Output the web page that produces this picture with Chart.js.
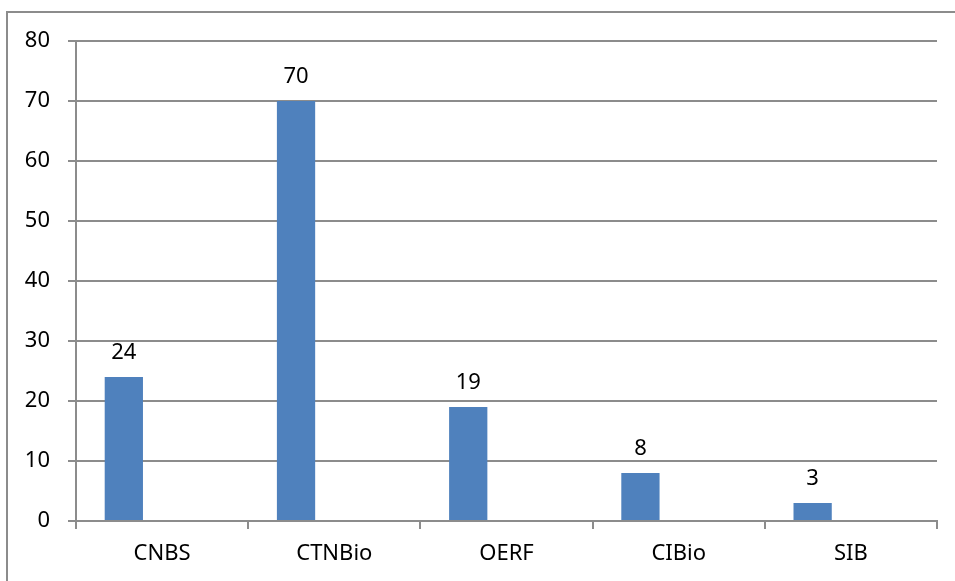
<!DOCTYPE html>
<html>
<head>
<meta charset="utf-8">
<script src="https://cdn.jsdelivr.net/npm/chart.js@4/dist/chart.umd.min.js"></script>
<style>
  html, body { margin: 0; padding: 0; background: #fff; }
  #wrap { width: 955px; height: 581px; position: relative; }
</style>
</head>
<body>
<div id="wrap"><canvas id="c" width="955" height="581"></canvas></div>
<script>
const categories = ["CNBS", "CTNBio", "OERF", "CIBio", "SIB"];
const values = [24, 70, 19, 8, 3];
const emptySeriesA = [null, null, null, null, null];
const emptySeriesB = [null, null, null, null, null];
const yTicks = { min: 0, max: 80, step: 10 };

const FONT = "'Noto Sans', 'Open Sans', sans-serif";
const GRID = "#8c8c8c";

const frame = {
  id: 'frame',
  beforeDraw(chart) {
    const ctx = chart.ctx;
    ctx.save();
    ctx.strokeStyle = GRID;
    ctx.lineWidth = 2;
    ctx.beginPath();
    ctx.moveTo(7, 600);
    ctx.lineTo(7, 12);
    ctx.lineTo(970, 12);
    ctx.stroke();
    ctx.restore();
  }
};

const dataLabels = {
  id: 'dataLabels',
  afterDatasetsDraw(chart) {
    const ctx = chart.ctx;
    const meta = chart.getDatasetMeta(0);
    ctx.save();
    ctx.fillStyle = '#000';
    ctx.font = "22px " + FONT;
    ctx.textAlign = 'center';
    ctx.textBaseline = 'alphabetic';
    meta.data.forEach((bar, i) => {
      const v = chart.data.datasets[0].data[i];
      ctx.fillText(String(v), bar.x, bar.y - 18);
    });
    ctx.restore();
  }
};

new Chart(document.getElementById('c'), {
  type: 'bar',
  data: {
    labels: categories,
    datasets: [
      { data: values, backgroundColor: '#4f81bd', borderWidth: 0 },
      { data: emptySeriesA, backgroundColor: '#c0504d', borderWidth: 0 },
      { data: emptySeriesB, backgroundColor: '#9bbb59', borderWidth: 0 }
    ]
  },
  options: {
    responsive: false,
    animation: false,
    events: [],
    categoryPercentage: 3 / 4.5,
    barPercentage: 1,
    layout: { padding: { left: 0, right: 18, top: 41, bottom: 0 } },
    plugins: { legend: { display: false }, tooltip: { enabled: false } },
    scales: {
      x: {
        grid: { offset: true, drawOnChartArea: false, drawTicks: true, tickLength: 8, color: GRID, lineWidth: 2 },
        border: { display: true, color: GRID, width: 2 },
        ticks: { color: '#000', font: { family: FONT, size: 22 }, padding: 12, maxRotation: 0 },
        afterFit(scale) { scale.height = 60; }
      },
      y: {
        min: yTicks.min, max: yTicks.max,
        grid: { color: GRID, lineWidth: 2, tickLength: 8, drawTicks: true },
        border: { display: true, color: GRID, width: 2 },
        ticks: { stepSize: yTicks.step, color: '#000', font: { family: FONT, size: 22 }, padding: 18 },
        afterFit(scale) { scale.width = 76; }
      }
    }
  },
  plugins: [frame, dataLabels]
});
</script>
</body>
</html>
